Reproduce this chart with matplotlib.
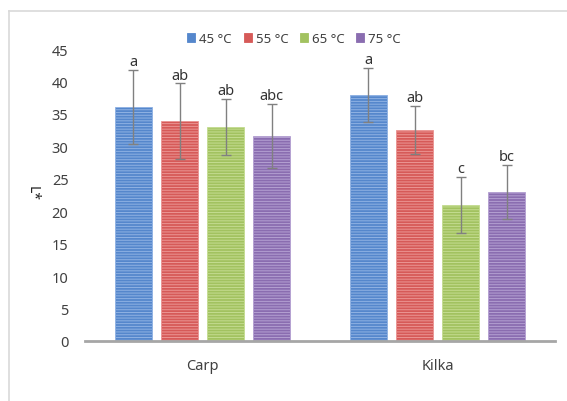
import matplotlib
matplotlib.use("Agg")
import matplotlib.pyplot as plt
import numpy as np
from matplotlib.lines import Line2D
from matplotlib import font_manager

categories = ["Carp", "Kilka"]
series = ["45 °C", "55 °C", "65 °C", "75 °C"]
values = {
    "45 °C": [36.1, 37.9],
    "55 °C": [33.9, 32.5],
    "65 °C": [33.0, 21.0],
    "75 °C": [31.6, 23.0],
}
errors = {
    "45 °C": [5.7, 4.2],
    "55 °C": [5.8, 3.7],
    "65 °C": [4.3, 4.3],
    "75 °C": [5.0, 4.2],
}
letters = {
    "45 °C": ["a", "a"],
    "55 °C": ["ab", "ab"],
    "65 °C": ["ab", "c"],
    "75 °C": ["abc", "bc"],
}
face_colors = ["#5587cc", "#d65a58", "#a2c260", "#8a6db0"]
stripe_colors = ["#8fb2e3", "#eb9593", "#c4dc90", "#b4a0d2"]

plt.rcParams['font.family'] = ['Noto Sans', 'DejaVu Sans']
plt.rcParams['hatch.linewidth'] = 0.7

names = {f.name for f in font_manager.fontManager.ttflist}
narrow = 'Liberation Sans Narrow' if 'Liberation Sans Narrow' in names else 'Noto Sans'
print("narrow font:", narrow)

fig = plt.figure(figsize=(5.67, 4.02), dpi=100)
ax = fig.add_axes([0.150, 0.1493, 0.829, 0.7263])

x = np.arange(len(categories))
width = 0.158
step = 0.196
for i, s in enumerate(series):
    pos = x + (i - 1.5) * step
    ax.bar(pos, values[s], width, color=face_colors[i], edgecolor=stripe_colors[i],
           linewidth=0.6, hatch='------', label=s, zorder=2)
    ax.errorbar(pos, values[s], yerr=errors[s], fmt='none', ecolor='#808080',
                elinewidth=1, capsize=3.5, capthick=1, zorder=3)
    for p, v, e, t in zip(pos, values[s], errors[s], letters[s]):
        ax.text(p, v + e + 0.1, t, ha='center', va='bottom', fontsize=10.5,
                color='#333333', zorder=4)

ax.set_xlim(-0.5, 1.5)
ax.set_ylim(0, 45)
ax.set_yticks(np.arange(0, 46, 5))
ax.set_xticks(x)
ax.set_xticklabels(categories)
ax.tick_params(axis='both', length=0, labelsize=10.5, colors='#404040')
ax.tick_params(axis='y', pad=12)
ax.tick_params(axis='x', pad=12)
for sp in ['top', 'right', 'left']:
    ax.spines[sp].set_visible(False)
ax.spines['bottom'].set_color('#a6a6a6')
ax.spines['bottom'].set_linewidth(2)

ax.set_ylabel("L*", rotation=-90, fontsize=10, fontweight='bold',
              color='#222222')
ax.yaxis.label.set_va('center')
ax.yaxis.set_label_coords(-0.113, 0.51)

leg = ax.legend(loc='center', bbox_to_anchor=(0.445, 1.036), ncol=4, frameon=False,
                prop={'family': narrow, 'size': 11.5 if narrow != 'Noto Sans' else 9.5},
                handlelength=0.6, handleheight=0.6, handletextpad=0.3,
                columnspacing=0.9)
for h in leg.legend_handles:
    h.set_hatch(None)
    h.set_edgecolor(h.get_facecolor())
for t in leg.get_texts():
    t.set_color('#404040')

# outer frame
fig.add_artist(Line2D([9/567, 9/567], [0, 1 - 12/402], color='#d9d9d9', lw=1.2))
fig.add_artist(Line2D([9/567, 1], [1 - 12/402, 1 - 12/402], color='#d9d9d9', lw=1.2))

fig.savefig("out.png", dpi=100)
